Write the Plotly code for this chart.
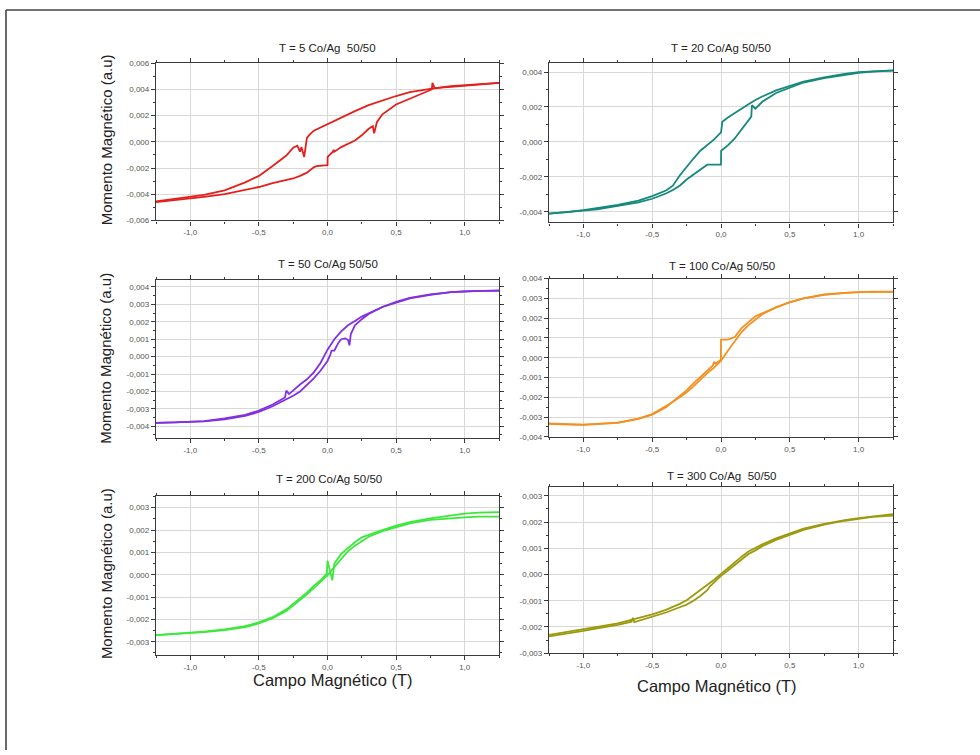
import plotly.graph_objects as go

# ---------------- data (field in T, moment in a.u.) ----------------
titles = ["T = 5 Co/Ag  50/50", "T = 20 Co/Ag 50/50", "T = 50 Co/Ag 50/50",
          "T = 100 Co/Ag 50/50", "T = 200 Co/Ag 50/50", "T = 300 Co/Ag  50/50"]
colors = ["#e3201c", "#16897d", "#8230e0", "#f39020", "#3be83b", "#9c9a0e"]

# T = 5
t5_down_x = [1.25, 1.1, 1.0, 0.9, 0.75, 0.6, 0.5, 0.4, 0.3, 0.2, 0.1, 0.0, -0.1, -0.13, -0.15,
             -0.17, -0.19, -0.2, -0.22, -0.25, -0.3, -0.4, -0.5, -0.6, -0.75, -0.9, -1.0, -1.1, -1.25]
t5_down_y = [0.0045, 0.0044, 0.00435, 0.00425, 0.00405, 0.0038, 0.0035, 0.00315, 0.0028, 0.00235,
             0.00185, 0.00135, 0.00085, 0.00055, 0.0003, -0.00115, -0.0004, -0.00075, -0.0003,
             -0.00045, -0.00105, -0.00185, -0.0026, -0.0031, -0.0037, -0.00405, -0.0042, -0.00435, -0.00455]
t5_up_x = [-1.25, -1.1, -1.0, -0.9, -0.75, -0.6, -0.5, -0.4, -0.3, -0.25, -0.2, -0.15, -0.1, -0.08,
           -0.02, 0.0, 0.001, 0.04, 0.045, 0.05, 0.1, 0.2, 0.25, 0.3, 0.33, 0.34, 0.36, 0.4, 0.5,
           0.6, 0.7, 0.76, 0.765, 0.78, 0.9, 1.0, 1.1, 1.25]
t5_up_y = [-0.0046, -0.00445, -0.00435, -0.0042, -0.004, -0.0037, -0.00345, -0.00315, -0.00295,
           -0.0028, -0.0026, -0.00235, -0.00195, -0.00185, -0.0018, -0.00178, -0.00115, -0.00075,
           -0.0006, -0.00075, -0.0004, 0.0001, 0.0005, 0.001, 0.0012, 0.00065, 0.0015, 0.0021,
           0.00285, 0.0033, 0.00375, 0.004, 0.0045, 0.0041, 0.0042, 0.0043, 0.0044, 0.0045]

# T = 20
t20_down_x = [1.25, 1.1, 1.0, 0.9, 0.75, 0.6, 0.5, 0.4, 0.3, 0.25, 0.2, 0.1, 0.05, 0.01, 0.0,
              -0.05, -0.1, -0.15, -0.2, -0.25, -0.3, -0.35, -0.37, -0.4, -0.5, -0.6, -0.75, -0.9,
              -1.0, -1.1, -1.25]
t20_down_y = [0.0041, 0.00405, 0.004, 0.0039, 0.0037, 0.00345, 0.0032, 0.00295, 0.0026, 0.0024,
              0.00215, 0.00167, 0.0014, 0.00115, 0.00055, 0.00015, -0.0002, -0.0005, -0.00095,
              -0.00145, -0.00192, -0.0025, -0.00262, -0.00278, -0.0031, -0.00335, -0.0036,
              -0.0038, -0.0039, -0.004, -0.0041]
t20_up_x = [-1.25, -1.1, -1.0, -0.9, -0.75, -0.6, -0.5, -0.4, -0.35, -0.3, -0.25, -0.2, -0.15,
            -0.1, -0.05, 0.0, 0.001, 0.05, 0.1, 0.15, 0.2, 0.22, 0.225, 0.25, 0.3, 0.4, 0.5, 0.6,
            0.75, 0.9, 1.0, 1.1, 1.25]
t20_up_y = [-0.0041, -0.004, -0.00395, -0.00385, -0.00365, -0.00345, -0.00325, -0.00295,
            -0.00275, -0.0025, -0.00215, -0.00185, -0.00155, -0.0013, -0.0013, -0.0013, -0.0005,
            -0.0002, 0.0002, 0.0007, 0.0012, 0.00145, 0.0021, 0.0019, 0.0023, 0.0028, 0.0031,
            0.0034, 0.00365, 0.00385, 0.00395, 0.00402, 0.00408]

# T = 50
t50_down_x = [1.25, 1.1, 1.0, 0.9, 0.75, 0.6, 0.5, 0.4, 0.3, 0.25, 0.2, 0.15, 0.1, 0.05, 0.0,
              -0.05, -0.1, -0.15, -0.2, -0.25, -0.28, -0.3, -0.31, -0.4, -0.5, -0.6, -0.75, -0.9,
              -1.0, -1.1, -1.25]
t50_down_y = [0.0038, 0.00378, 0.00375, 0.0037, 0.00358, 0.00338, 0.00315, 0.00285, 0.0025,
              0.0023, 0.00205, 0.0018, 0.00145, 0.001, 0.0004, -0.00035, -0.0009, -0.0013,
              -0.0016, -0.00195, -0.00215, -0.00195, -0.00235, -0.00275, -0.0031, -0.00335,
              -0.00355, -0.0037, -0.00375, -0.00378, -0.0038]
t50_up_x = [-1.25, -1.0, -0.9, -0.75, -0.6, -0.5, -0.4, -0.3, -0.25, -0.2, -0.15, -0.1, -0.05,
            0.0, 0.02, 0.03, 0.05, 0.08, 0.1, 0.13, 0.15, 0.16, 0.17, 0.2, 0.25, 0.3, 0.4, 0.5,
            0.6, 0.75, 0.9, 1.0, 1.1, 1.25]
t50_up_y = [-0.0038, -0.00377, -0.00372, -0.0036, -0.0034, -0.00318, -0.00285, -0.00245,
            -0.00225, -0.002, -0.00165, -0.00125, -0.0008, -0.00025, 0.0001, 0.00035, 0.00035,
            0.0008, 0.001, 0.00105, 0.00095, 0.00065, 0.0013, 0.0018, 0.00215, 0.00245, 0.00285,
            0.0031, 0.00335, 0.00355, 0.0037, 0.00374, 0.00378, 0.00378]

# T = 100
t100_down_x = [1.25, 1.1, 1.0, 0.9, 0.75, 0.6, 0.5, 0.4, 0.3, 0.25, 0.2, 0.15, 0.1, 0.05, 0.0,
               -0.001, -0.04, -0.05, -0.06, -0.1, -0.15, -0.2, -0.25, -0.3, -0.4, -0.5, -0.6,
               -0.75, -0.9, -1.0, -1.1, -1.25]
t100_down_y = [0.00335, 0.00335, 0.00332, 0.00328, 0.0032, 0.003, 0.00282, 0.00255, 0.00225,
               0.0021, 0.0018, 0.0015, 0.00105, 0.00092, 0.00092, -0.0001, -0.0003, -0.0002,
               -0.0004, -0.00065, -0.00095, -0.0013, -0.00165, -0.00195, -0.0025, -0.00288,
               -0.0031, -0.0033, -0.00338, -0.0034, -0.00338, -0.00335]
t100_up_x = [-1.25, -1.0, -0.75, -0.6, -0.5, -0.4, -0.3, -0.25, -0.2, -0.15, -0.1, -0.05, 0.0,
             0.05, 0.1, 0.15, 0.2, 0.25, 0.3, 0.4, 0.5, 0.6, 0.75, 0.9, 1.0, 1.1, 1.25]
t100_up_y = [-0.00332, -0.00338, -0.00328, -0.00308, -0.00285, -0.00245, -0.002, -0.00175,
             -0.00145, -0.0011, -0.00078, -0.0005, -0.00015, 0.00035, 0.00085, 0.0013, 0.00165,
             0.00195, 0.0022, 0.00255, 0.0028, 0.003, 0.00318, 0.00328, 0.00332, 0.00335, 0.00333]

# T = 200
t200_down_x = [1.25, 1.1, 1.0, 0.9, 0.75, 0.6, 0.5, 0.4, 0.3, 0.25, 0.2, 0.15, 0.1, 0.05, 0.035,
               0.0, -0.005, -0.05, -0.1, -0.15, -0.2, -0.25, -0.3, -0.4, -0.5, -0.6, -0.75, -0.9,
               -1.0, -1.1, -1.25]
t200_down_y = [0.0028, 0.00278, 0.00273, 0.00265, 0.00252, 0.00235, 0.0022, 0.002, 0.0018,
               0.00167, 0.00145, 0.0012, 0.00093, 0.0005, -0.00025, 0.00063, 0.00005, -0.00025,
               -0.0005, -0.0008, -0.00105, -0.0013, -0.00155, -0.0019, -0.00213, -0.0023,
               -0.00245, -0.00255, -0.0026, -0.00265, -0.0027]
t200_up_x = [-1.25, -1.0, -0.9, -0.75, -0.6, -0.5, -0.4, -0.3, -0.25, -0.2, -0.15, -0.1, -0.05,
             0.0, 0.05, 0.1, 0.15, 0.2, 0.25, 0.3, 0.4, 0.5, 0.6, 0.75, 0.9, 1.0, 1.1, 1.25]
t200_up_y = [-0.0027, -0.00262, -0.00257, -0.00248, -0.00235, -0.00218, -0.00195, -0.00162,
             -0.00138, -0.00112, -0.00088, -0.0006, -0.0003, -0.00003, 0.00035, 0.00072,
             0.00105, 0.0013, 0.0015, 0.0017, 0.00195, 0.00212, 0.0023, 0.00245, 0.00253,
             0.00257, 0.0026, 0.0026]

# T = 300
t300_down_x = [1.25, 1.1, 1.0, 0.9, 0.75, 0.6, 0.5, 0.4, 0.3, 0.25, 0.2, 0.15, 0.1, 0.05, 0.0,
               -0.05, -0.1, -0.15, -0.2, -0.25, -0.3, -0.4, -0.5, -0.6, -0.65, -0.75, -0.9,
               -1.0, -1.1, -1.25]
t300_down_y = [0.0023, 0.00222, 0.00215, 0.00207, 0.00193, 0.00175, 0.00157, 0.00138, 0.00115,
               0.00102, 0.00088, 0.00068, 0.00045, 0.00022, 0.00002, -0.0002, -0.0004, -0.0006,
               -0.0008, -0.00098, -0.00112, -0.00135, -0.00152, -0.00166, -0.00172, -0.00186,
               -0.002, -0.00208, -0.00218, -0.0023]
t300_up_x = [-1.25, -1.1, -1.0, -0.9, -0.75, -0.65, -0.64, -0.63, -0.5, -0.4, -0.3, -0.25, -0.2,
             -0.15, -0.1, -0.08, -0.05, 0.0, 0.05, 0.1, 0.15, 0.2, 0.25, 0.3, 0.4, 0.5, 0.6,
             0.75, 0.9, 1.0, 1.1, 1.25]
t300_up_y = [-0.00236, -0.00225, -0.00215, -0.00205, -0.00192, -0.0018, -0.00165, -0.00182,
             -0.00162, -0.00145, -0.00125, -0.00115, -0.001, -0.00082, -0.0006, -0.00045,
             -0.0003, -0.00005, 0.00015, 0.00035, 0.00058, 0.00078, 0.00092, 0.00108, 0.00132,
             0.00152, 0.0017, 0.0019, 0.00205, 0.00212, 0.0022, 0.00225]

branches = [
    [(t5_down_x, t5_down_y), (t5_up_x, t5_up_y)],
    [(t20_down_x, t20_down_y), (t20_up_x, t20_up_y)],
    [(t50_down_x, t50_down_y), (t50_up_x, t50_up_y)],
    [(t100_down_x, t100_down_y), (t100_up_x, t100_up_y)],
    [(t200_down_x, t200_down_y), (t200_up_x, t200_up_y)],
    [(t300_down_x, t300_down_y), (t300_up_x, t300_up_y)],
]

x_tickvals = [-1.0, -0.5, 0.0, 0.5, 1.0]
x_ticktext = ["-1,0", "-0,5", "0,0", "0,5", "1,0"]

y_ticks = [
    ([-0.006, -0.004, -0.002, 0.0, 0.002, 0.004, 0.006],
     ["-0,006", "-0,004", "-0,002", "0,000", "0,002", "0,004", "0,006"]),
    ([-0.004, -0.002, 0.0, 0.002, 0.004],
     ["-0,004", "-0,002", "0,000", "0,002", "0,004"]),
    ([-0.004, -0.003, -0.002, -0.001, 0.0, 0.001, 0.002, 0.003, 0.004],
     ["-0,004", "-0,003", "-0,002", "-0,001", "0,000", "0,001", "0,002", "0,003", "0,004"]),
    ([-0.004, -0.003, -0.002, -0.001, 0.0, 0.001, 0.002, 0.003, 0.004],
     ["-0,004", "-0,003", "-0,002", "-0,001", "0,000", "0,001", "0,002", "0,003", "0,004"]),
    ([-0.003, -0.002, -0.001, 0.0, 0.001, 0.002, 0.003],
     ["-0,003", "-0,002", "-0,001", "0,000", "0,001", "0,002", "0,003"]),
    ([-0.003, -0.002, -0.001, 0.0, 0.001, 0.002, 0.003],
     ["-0,003", "-0,002", "-0,001", "0,000", "0,001", "0,002", "0,003"]),
]
y_ranges = [[-0.006, 0.006], [-0.0046, 0.0045], [-0.00466, 0.00442],
            [-0.004, 0.004], [-0.0036, 0.00352], [-0.003, 0.00333]]
y_minor = [0.001, 0.001, 0.0005, 0.0005, 0.0005, 0.0005]

ylabel = "Momento Magnético (a.u)"
xlabel = "Campo Magnético (T)"

# ---------------- layout geometry (pixels) ----------------
W, H = 980, 755
boxes = [(156, 499, 60, 219), (549, 893, 60, 221),
         (156, 499, 279, 439), (549, 893, 278, 438),
         (156, 499, 498, 659), (549, 893, 489, 657)]
title_pos = [(327, 45), (721, 45), (328, 263), (722, 265), (329, 481), (721, 478)]


def px(x):
    return x / W


def py(y):
    return 1 - y / H


FONT = "Arial, 'Liberation Sans', sans-serif"
fig = go.Figure()
layout = dict(width=W, height=H, autosize=False, margin=dict(l=0, r=0, t=0, b=0),
              paper_bgcolor="white", plot_bgcolor="white", showlegend=False,
              font=dict(family=FONT))
annotations = []

for i in range(6):
    n = "" if i == 0 else str(i + 1)
    for bx, by in branches[i]:
        fig.add_trace(go.Scatter(x=bx, y=by, mode="lines",
                                 line=dict(color=colors[i], width=1.8),
                                 xaxis="x" + n, yaxis="y" + n, hoverinfo="x+y"))
    x0, x1, y0, y1 = boxes[i]
    common = dict(showline=True, linecolor="#3a3a3a", linewidth=1.3, mirror="allticks",
                  ticks="outside", ticklen=4, tickwidth=1, tickcolor="#3a3a3a",
                  showgrid=True, gridcolor="#d8d8d8", gridwidth=1, zeroline=False,
                  tickfont=dict(size=8, color="#555555", family=FONT),
                  minor=dict(ticks="outside", ticklen=2, tickcolor="#3a3a3a", showgrid=False))
    layout["xaxis" + n] = dict(common, domain=[px(x0), px(x1)], range=[-1.25, 1.25],
                               anchor="y" + n, tickmode="array", tickvals=x_tickvals,
                               ticktext=x_ticktext, minor=dict(common["minor"], dtick=0.25,
                                                                tick0=0))
    tv, tt = y_ticks[i]
    layout["yaxis" + n] = dict(common, domain=[py(y1), py(y0)], range=y_ranges[i],
                               anchor="x" + n, tickmode="array", tickvals=tv, ticktext=tt,
                               minor=dict(common["minor"], dtick=y_minor[i], tick0=0))
    tx, ty = title_pos[i]
    annotations.append(dict(x=px(tx), y=py(ty), xref="paper", yref="paper",
                            text=titles[i], showarrow=False, xanchor="center",
                            yanchor="middle", font=dict(size=11.5, color="#222222")))

for cy in [138, 359, 577]:
    annotations.append(dict(x=px(106), y=py(cy), xref="paper", yref="paper", text=ylabel,
                            textangle=-90, showarrow=False, xanchor="center",
                            yanchor="middle", font=dict(size=15, color="#222222")))
for cx, cy in [(333, 684), (717, 690)]:
    annotations.append(dict(x=px(cx), y=py(cy), xref="paper", yref="paper", text=xlabel,
                            showarrow=False, xanchor="center", yanchor="middle",
                            font=dict(size=16.5, color="#222222")))

layout["annotations"] = annotations
layout["shapes"] = [
    dict(type="line", xref="paper", yref="paper", x0=px(6), x1=1.0, y0=py(6), y1=py(6),
         line=dict(color="#444444", width=1.6)),
    dict(type="line", xref="paper", yref="paper", x0=px(6), x1=px(6), y0=py(6), y1=0.0,
         line=dict(color="#444444", width=1.6)),
]
fig.update_layout(**layout)

fig.write_html("out.html", config={"displayModeBar": False},
               post_script="document.body.style.margin='0';document.body.style.overflow='hidden';")
